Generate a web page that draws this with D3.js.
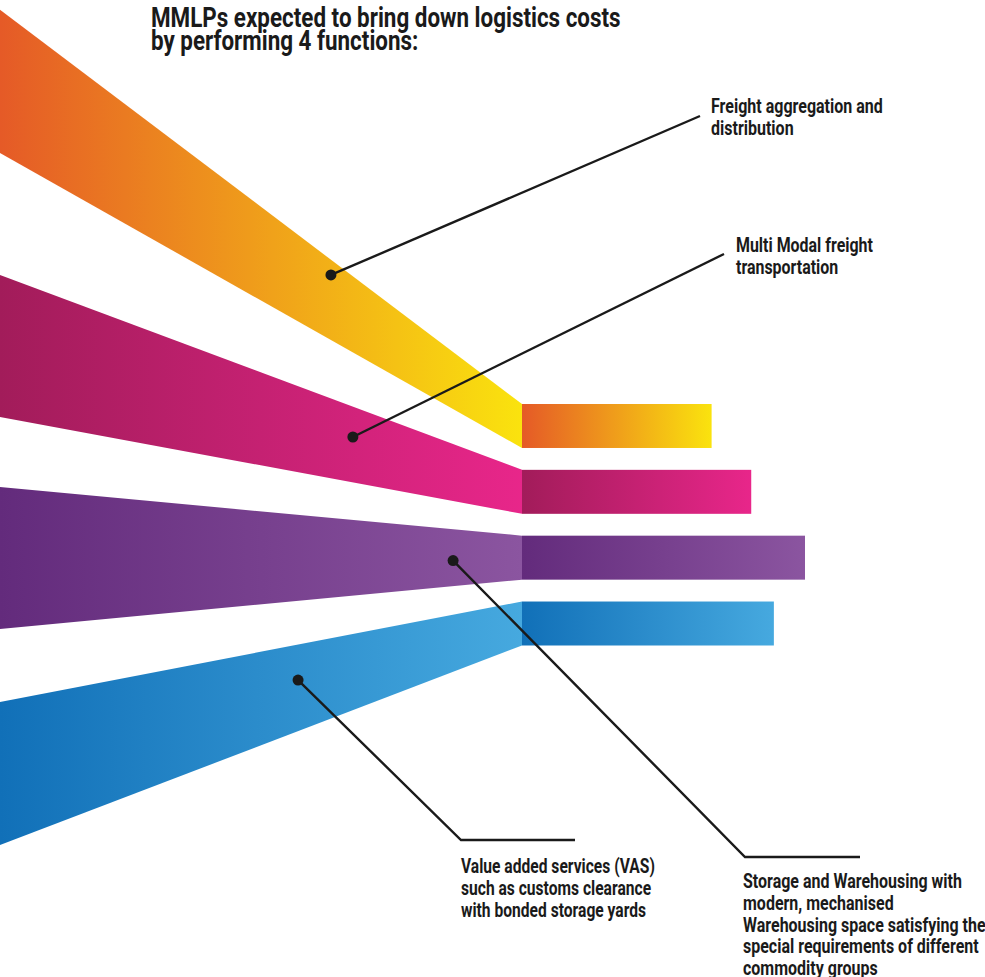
<!DOCTYPE html>
<html>
<head>
<meta charset="utf-8">
<script src="https://cdn.jsdelivr.net/npm/d3@7"></script>
<style>
  html, body { margin: 0; padding: 0; background: #fff; }
  svg { display: block; }
  text { font-family: Roboto, "Liberation Sans", sans-serif; font-weight: bold; fill: #1a1a1a; }
</style>
</head>
<body>
<svg id="chart"></svg>
<script>
const W = 985;
const H = 977;

const titleLines = ['MMLPs expected to bring down logistics costs', 'by performing 4 functions:'];

const categories = ['freight', 'multimodal', 'storage', 'vas'];

const labels = [
  ['Freight aggregation and', 'distribution'],
  ['Multi Modal freight', 'transportation'],
  ['Storage and Warehousing with', 'modern, mechanised', 'Warehousing space satisfying the', 'special requirements of different', 'commodity groups'],
  ['Value added services (VAS)', 'such as customs clearance', 'with bonded storage yards'],
];

// bar length, relative to the longest
const barValues = [67, 81, 100, 89];

// where each fan band meets the left edge, % of height
const fanTop = [1.0, 28.15, 49.85, 71.85];
const fanBottom = [15.66, 42.68, 64.38, 86.5];

const colorStart = ['#e55a27', '#a21c5a', '#632b7c', '#1170b8'];
const colorEnd = ['#fae30e', '#e8268a', '#8b55a0', '#46a9df'];

// leader dots: position along the band (x share) and across (0 top, 1 bottom)
const dotAlong = [0.634, 0.676, 0.868, 0.571];
const dotAcross = [0.19, 0.40, 0.55, 0.41];

const svg = d3.select('#chart').attr('width', W).attr('height', H);
const defs = svg.append('defs');

const x0 = 522;
const x = d3.scaleLinear().domain([0, 100]).range([x0, 805]);
const y = d3.scaleBand().domain(categories).range([404, 645.5]).paddingInner(0.332).paddingOuter(0);
const fanY = d3.scaleLinear().domain([0, 100]).range([0, H]);

const bands = categories.map((c, i) => {
  const t0 = fanY(fanTop[i]);
  const b0 = fanY(fanBottom[i]);
  const t1 = y(c);
  const b1 = y(c) + y.bandwidth();
  return { c, i, t0, b0, t1, b1 };
});

bands.forEach((d) => {
  const gFan = defs.append('linearGradient')
    .attr('id', `fan-${d.i}`)
    .attr('gradientUnits', 'userSpaceOnUse')
    .attr('x1', 0).attr('x2', x0).attr('y1', 0).attr('y2', 0);
  gFan.append('stop').attr('offset', 0).attr('stop-color', colorStart[d.i]);
  gFan.append('stop').attr('offset', 1).attr('stop-color', colorEnd[d.i]);

  const gBar = defs.append('linearGradient')
    .attr('id', `bar-${d.i}`)
    .attr('gradientUnits', 'userSpaceOnUse')
    .attr('x1', x0).attr('x2', x(barValues[d.i])).attr('y1', 0).attr('y2', 0);
  gBar.append('stop').attr('offset', 0).attr('stop-color', colorStart[d.i]);
  gBar.append('stop').attr('offset', 1).attr('stop-color', colorEnd[d.i]);
});

const area = d3.area()
  .x((p) => p[0])
  .y0((p) => p[1])
  .y1((p) => p[2]);

svg.append('g')
  .selectAll('path')
  .data(bands)
  .join('path')
  .attr('d', (d) => area([[0, d.t0, d.b0], [x0, d.t1, d.b1]]))
  .attr('fill', (d) => `url(#fan-${d.i})`);

svg.append('g')
  .selectAll('rect')
  .data(bands)
  .join('rect')
  .attr('x', x0)
  .attr('y', (d) => y(d.c))
  .attr('width', (d) => x(barValues[d.i]) - x0)
  .attr('height', y.bandwidth())
  .attr('fill', (d) => `url(#bar-${d.i})`);

// condensed look: squeeze each text block so its first line fits the given width
const squeeze = (sel, px, py, width) => {
  const first = sel.select('tspan').node();
  const k = width / first.getComputedTextLength();
  sel.attr('transform', `translate(${px},${py}) scale(${k},1)`);
};

const writeBlock = (parent, lines, size, lead) => {
  const t = parent.append('text').attr('font-size', size);
  t.selectAll('tspan')
    .data(lines)
    .join('tspan')
    .attr('x', 0)
    .attr('dy', (d, i) => (i ? lead : 0))
    .text((d) => d);
  return t;
};

// title
const title = writeBlock(svg, titleLines, 27, 23);
squeeze(title, 151, 27, 470);

// leaders
const leaderEnds = [
  [[700, 116]],
  [[724, 254]],
  [[745, 857], [860, 857]],
  [[461, 840], [575, 840]],
];
const labelPos = [[711, 113], [736, 252], [743, 888], [461, 873]];
const labelWidth = [172, 137, 219, 194];

const dots = bands.map((d) => {
  const px = dotAlong[d.i] * x0;
  const s = px / x0;
  const top = d.t0 + (d.t1 - d.t0) * s;
  const bot = d.b0 + (d.b1 - d.b0) * s;
  return [px, top + (bot - top) * dotAcross[d.i]];
});

const line = d3.line();
const leaders = svg.append('g');
leaders.selectAll('path')
  .data(bands)
  .join('path')
  .attr('d', (d) => line([dots[d.i], ...leaderEnds[d.i]]))
  .attr('fill', 'none')
  .attr('stroke', '#1a1a1a')
  .attr('stroke-width', 2.4);
leaders.selectAll('circle')
  .data(bands)
  .join('circle')
  .attr('cx', (d) => dots[d.i][0])
  .attr('cy', (d) => dots[d.i][1])
  .attr('r', 5.5)
  .attr('fill', '#1a1a1a');

const labelG = svg.append('g');
bands.forEach((d) => {
  const t = writeBlock(labelG, labels[d.i], 19.5, 21.8);
  squeeze(t, labelPos[d.i][0], labelPos[d.i][1], labelWidth[d.i]);
});
</script>
</body>
</html>
